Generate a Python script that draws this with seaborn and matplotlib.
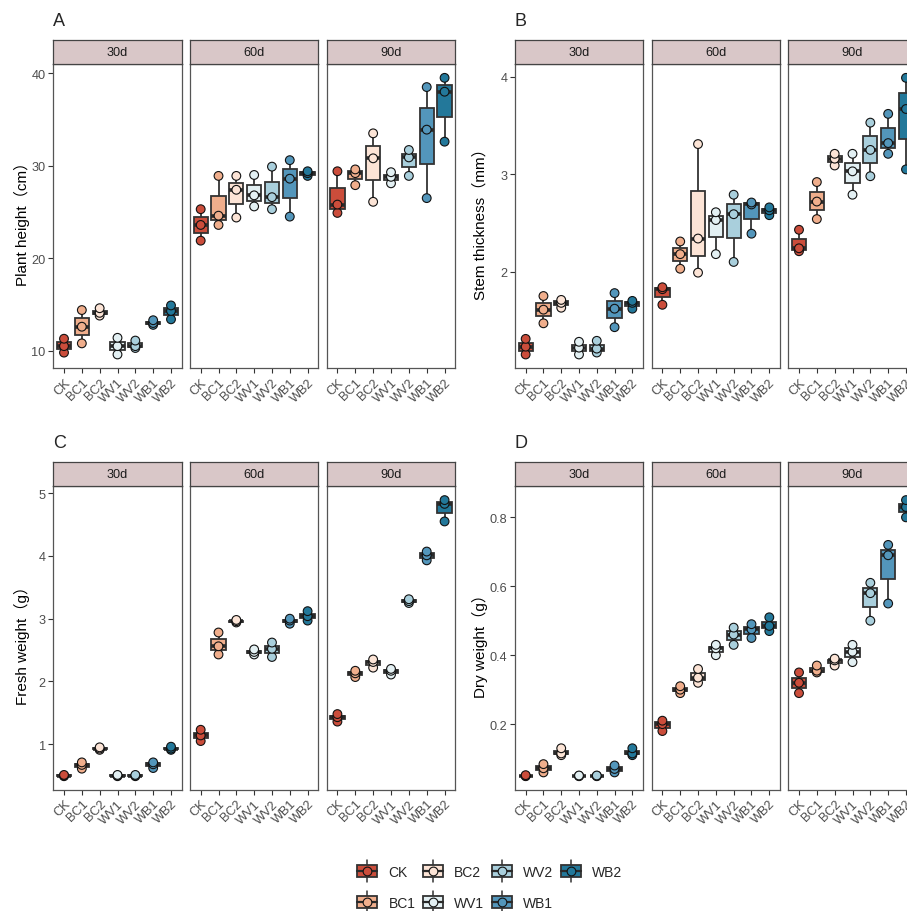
import numpy as np
import pandas as pd
import matplotlib
matplotlib.use("Agg")
import matplotlib.pyplot as plt
import seaborn as sns
from matplotlib.legend_handler import HandlerBase
from matplotlib.patches import Rectangle, Patch
from matplotlib.lines import Line2D

sns.set_style("white")
plt.rcParams['font.family'] = ['Liberation Sans', 'Noto Sans CJK SC', 'DejaVu Sans']

treatments = ["CK", "BC1", "BC2", "WV1", "WV2", "WB1", "WB2"]
days = ["30d", "60d", "90d"]
colors = ["#CB4D3B", "#F0AE8C", "#FCE4D6", "#E3F0F3", "#A9CFDC", "#5396BB", "#23789A"]

# three replicates per treatment (order = treatments)
height_30d = [[9.8, 10.5, 11.3], [10.8, 12.6, 14.4], [13.8, 14.1, 14.6], [9.6, 10.5, 11.4],
              [10.3, 10.5, 11.1], [12.8, 13.0, 13.3], [13.4, 14.3, 14.9]]
height_60d = [[21.9, 23.6, 25.3], [23.6, 24.6, 28.9], [24.4, 27.4, 28.9], [25.6, 26.8, 29.0],
              [25.3, 26.6, 29.9], [24.5, 28.6, 30.6], [28.9, 29.2, 29.4]]
height_90d = [[24.9, 25.8, 29.4], [27.9, 29.2, 29.6], [26.1, 30.8, 33.5], [28.1, 28.8, 29.3],
              [28.9, 30.9, 31.7], [26.5, 33.9, 38.5], [32.6, 38.0, 39.5]]

stem_30d = [[1.15, 1.23, 1.31], [1.47, 1.61, 1.75], [1.63, 1.68, 1.71], [1.15, 1.22, 1.28],
            [1.17, 1.21, 1.29], [1.43, 1.62, 1.78], [1.62, 1.68, 1.70]]
stem_60d = [[1.66, 1.82, 1.84], [2.03, 2.18, 2.31], [1.99, 2.34, 3.31], [2.18, 2.53, 2.61],
            [2.10, 2.59, 2.79], [2.39, 2.69, 2.71], [2.58, 2.63, 2.66]]
stem_90d = [[2.21, 2.24, 2.43], [2.54, 2.72, 2.92], [3.09, 3.16, 3.21], [2.79, 3.03, 3.21],
            [2.98, 3.25, 3.53], [3.21, 3.32, 3.62], [3.05, 3.67, 3.99]]

fresh_30d = [[0.49, 0.50, 0.51], [0.61, 0.67, 0.71], [0.91, 0.93, 0.95], [0.49, 0.50, 0.51],
             [0.49, 0.50, 0.51], [0.62, 0.68, 0.71], [0.91, 0.93, 0.96]]
fresh_60d = [[1.05, 1.14, 1.23], [2.43, 2.56, 2.78], [2.94, 2.96, 2.98], [2.43, 2.47, 2.51],
             [2.39, 2.52, 2.62], [2.92, 2.97, 3.00], [2.97, 3.04, 3.12]]
fresh_90d = [[1.36, 1.43, 1.48], [2.07, 2.13, 2.17], [2.22, 2.31, 2.35], [2.11, 2.17, 2.20],
             [3.25, 3.28, 3.31], [3.93, 4.01, 4.07], [4.55, 4.83, 4.89]]

dry_30d = [[0.049, 0.050, 0.052], [0.060, 0.072, 0.084], [0.110, 0.115, 0.130], [0.049, 0.050, 0.051],
           [0.049, 0.050, 0.051], [0.060, 0.070, 0.080], [0.110, 0.115, 0.130]]
dry_60d = [[0.18, 0.20, 0.21], [0.29, 0.30, 0.31], [0.32, 0.335, 0.36], [0.40, 0.42, 0.43],
           [0.43, 0.46, 0.48], [0.45, 0.475, 0.49], [0.47, 0.485, 0.51]]
dry_90d = [[0.29, 0.32, 0.35], [0.35, 0.355, 0.37], [0.37, 0.385, 0.39], [0.38, 0.41, 0.43],
           [0.50, 0.58, 0.61], [0.55, 0.69, 0.72], [0.80, 0.83, 0.85]]

panels = [
    ("A", "Plant height（cm）", [height_30d, height_60d, height_90d], [10, 20, 30, 40]),
    ("B", "Stem thickness（mm）", [stem_30d, stem_60d, stem_90d], [2, 3, 4]),
    ("C", "Fresh weight（g）", [fresh_30d, fresh_60d, fresh_90d], [1, 2, 3, 4, 5]),
    ("D", "Dry weight（g）", [dry_30d, dry_60d, dry_90d], [0.2, 0.4, 0.6, 0.8]),
]

W, H = 907, 912
fig = plt.figure(figsize=(W / 100, H / 100), dpi=100)

xcols_left = [(53.3, 181.7), (190.0, 318.3), (326.7, 455.3)]
xcols_right = [(515.0, 643.0), (651.7, 780.0), (788.3, 916.7)]
rows = [(41.3, 65.0, 369.3), (463.3, 487.3, 791.0)]
layout = {"A": (xcols_left, rows[0], 21.5), "B": (xcols_right, rows[0], 480.0),
          "C": (xcols_left, rows[1], 21.5), "D": (xcols_right, rows[1], 480.0)}

def fr(x0, y0, x1, y1):
    return [x0 / W, 1 - y1 / H, (x1 - x0) / W, (y1 - y0) / H]

border = "#555555"
for letter, ylabel, series, yticks in panels:
    cols, (s0, p0, p1), labx = layout[letter]
    recs = []
    for d, vals in zip(days, series):
        for t, reps in zip(treatments, vals):
            for v in reps:
                recs.append({"day": d, "treatment": t, "value": v})
    df = pd.DataFrame(recs)
    lo, hi = df["value"].min(), df["value"].max()
    pad = 0.05 * (hi - lo)
    for i, d in enumerate(days):
        x0, x1 = cols[i]
        ax = fig.add_axes(fr(x0, p0, x1, p1))
        sub = df[df["day"] == d]
        sns.boxplot(data=sub, x="treatment", y="value", hue="treatment", order=treatments,
                    hue_order=treatments, palette=colors, width=0.8, linewidth=1.3,
                    linecolor="#333333", showfliers=False, legend=False, saturation=1,
                    whis=(0, 100), showcaps=False,
                    medianprops=dict(linewidth=2.6, color="#2a2a2a"), ax=ax)
        sns.stripplot(data=sub, x="treatment", y="value", hue="treatment", order=treatments,
                      hue_order=treatments, palette=colors, jitter=False, size=6.3,
                      edgecolor="#111111", linewidth=0.8, legend=False, zorder=4, ax=ax)
        ax.set_xlim(-0.6, 6.6)
        ax.set_ylim(lo - pad, hi + pad)
        ax.set_yticks(yticks)
        ax.set_xlabel("")
        ax.set_ylabel("")
        ax.tick_params(axis="both", length=3.5, width=0.8, color="#333333",
                       labelcolor="#4D4D4D", labelsize=9.2, pad=2, direction="out",
                       bottom=True, left=True)
        for lab in ax.get_xticklabels():
            lab.set_rotation(45)
            lab.set_ha("right")
            lab.set_va("top")
            lab.set_rotation_mode("anchor")
        if i > 0:
            ax.tick_params(axis="y", left=False, labelleft=False)
        for sp in ax.spines.values():
            sp.set_visible(True)
            sp.set_color(border)
            sp.set_linewidth(0.9)
        ax.grid(False)
        sax = fig.add_axes(fr(x0, s0, x1, p0))
        sax.set_facecolor("#D9C7C8")
        sax.set_xticks([])
        sax.set_yticks([])
        for sp in sax.spines.values():
            sp.set_color("#444444")
            sp.set_linewidth(0.9)
        sax.text(0.5, 0.5, d, ha="center", va="center", fontsize=9.2,
                 color="#1A1A1A", transform=sax.transAxes)
    fig.text(labx / W, 1 - ((p0 + p1) / 2 + 3) / H, ylabel, rotation=90, fontsize=11,
             ha="center", va="center", color="black")
    fig.text(cols[0][0] / W, 1 - (s0 - 20) / H, letter, fontsize=13, ha="left", va="center")


class BoxHandler(HandlerBase):
    def create_artists(self, legend, orig_handle, xdescent, ydescent, width, height,
                       fontsize, trans):
        c = orig_handle.get_facecolor()
        cx = width / 2 - xdescent
        cy = height / 2 - ydescent
        bw, bh = width, height * 0.9
        wh = Line2D([cx, cx], [cy - height * 0.8, cy + height * 0.8], color="#333333",
                    lw=1.1, transform=trans)
        rect = Rectangle((cx - bw / 2, cy - bh / 2), bw, bh, facecolor=c,
                         edgecolor="#333333", lw=1.3, transform=trans)
        med = Line2D([cx - bw / 2, cx + bw / 2], [cy, cy], color="#2a2a2a", lw=1.6,
                     transform=trans)
        pt = Line2D([cx], [cy], marker="o", markersize=6.3, markerfacecolor=c,
                    markeredgecolor="#111111", markeredgewidth=0.8, transform=trans,
                    linestyle="none")
        return [wh, rect, med, pt]


handles = [Patch(facecolor=c, label=t) for c, t in zip(colors, treatments)]
fig.legend(handles=handles, labels=treatments, handler_map={Patch: BoxHandler()},
           loc="center", bbox_to_anchor=(490 / W, 1 - 888 / H), ncol=4, frameon=False,
           fontsize=10, handlelength=1.45, handleheight=1.15, labelspacing=1.2,
           columnspacing=0.55, handletextpad=0.8)

fig.savefig("out.png", dpi=100)
